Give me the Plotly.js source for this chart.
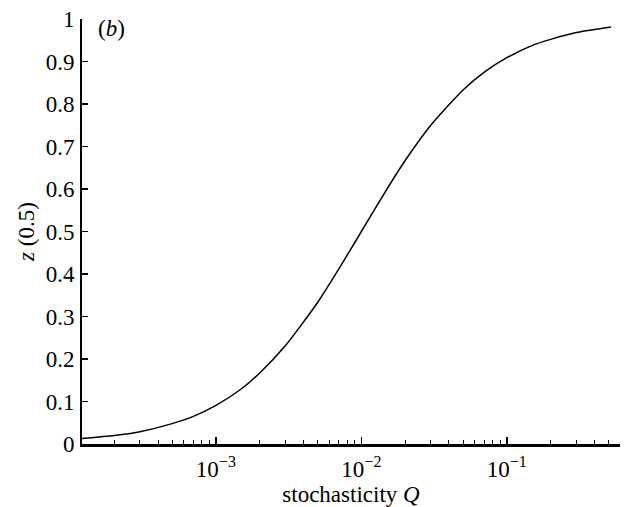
<!DOCTYPE html>
<html>
<head>
<meta charset="utf-8">
<script src="https://cdn.plot.ly/plotly-3.0.1.min.js"></script>
<style>html,body{margin:0;padding:0;background:#fff;}#chart{width:629px;height:507px;}</style>
</head>
<body>
<div id="chart"></div>
<script>
// Data
const stochasticityQ = [1.2e-4, 2e-4, 3e-4, 5e-4, 7e-4, 1e-3, 1.5e-3, 2e-3, 3e-3, 5e-3, 7e-3, 1e-2, 1.5e-2, 2e-2, 3e-2, 5e-2, 7e-2, 0.1, 0.15, 0.2, 0.3, 0.52];
const z05 = [0.013, 0.020, 0.029, 0.048, 0.065, 0.091, 0.130, 0.167, 0.231, 0.333, 0.412, 0.500, 0.600, 0.667, 0.750, 0.833, 0.875, 0.909, 0.938, 0.952, 0.968, 0.981];
const yTickVals = [0, 0.1, 0.2, 0.3, 0.4, 0.5, 0.6, 0.7, 0.8, 0.9, 1];
const yTickText = ['0', '0.1', '0.2', '0.3', '0.4', '0.5', '0.6', '0.7', '0.8', '0.9', '1'];
const xTickVals = [1e-3, 1e-2, 1e-1];
const xTickText = ['10<sup>−3</sup>', '10<sup>−2</sup>', '10<sup>−1</sup>'];
const xRange = [1.2e-4, 0.6];

const font = {family: 'Liberation Serif, Times New Roman, serif', color: '#000', size: 23};

const trace = {
  x: stochasticityQ,
  y: z05,
  type: 'scatter',
  mode: 'lines',
  line: {color: '#000', width: 1.5, shape: 'spline', smoothing: 0.6},
  hoverinfo: 'skip'
};

const layout = {
  width: 629,
  height: 507,
  margin: {l: 82, r: 9, t: 19, b: 63},
  paper_bgcolor: '#fff',
  plot_bgcolor: '#fff',
  font: font,
  showlegend: false,
  xaxis: {
    type: 'log',
    range: [Math.log10(xRange[0]), Math.log10(xRange[1])],
    tickvals: xTickVals,
    ticktext: xTickText,
    ticks: 'inside',
    ticklen: 7,
    tickwidth: 1.5,
    tickcolor: '#000',
    showline: true,
    linecolor: '#000',
    linewidth: 2.5,
    showgrid: false,
    zeroline: false,
    mirror: false,
    tickfont: font,
    ticklabelstandoff: 3,
    minor: {ticks: 'inside', ticklen: 4, tickwidth: 1, tickcolor: '#000', dtick: 'D1', showgrid: false},
    title: {text: 'stochasticity <i>Q</i>', font: font, standoff: 4}
  },
  yaxis: {
    range: [0, 1],
    tickvals: yTickVals,
    ticktext: yTickText,
    ticks: 'inside',
    ticklen: 6,
    tickwidth: 1.5,
    tickcolor: '#000',
    showline: true,
    linecolor: '#000',
    linewidth: 2,
    showgrid: false,
    zeroline: false,
    tickfont: font,
    ticklabelstandoff: 1,
    title: {text: '<i>z</i> (0.5)', font: font, standoff: 5}
  },
  annotations: [{
    text: '(<i>b</i>)',
    xref: 'paper', yref: 'paper',
    x: 0.026, y: 1.012,
    xanchor: 'left', yanchor: 'top',
    showarrow: false,
    font: font
  }]
};

Plotly.newPlot('chart', [trace], layout, {staticPlot: true, displayModeBar: false});
</script>
</body>
</html>
